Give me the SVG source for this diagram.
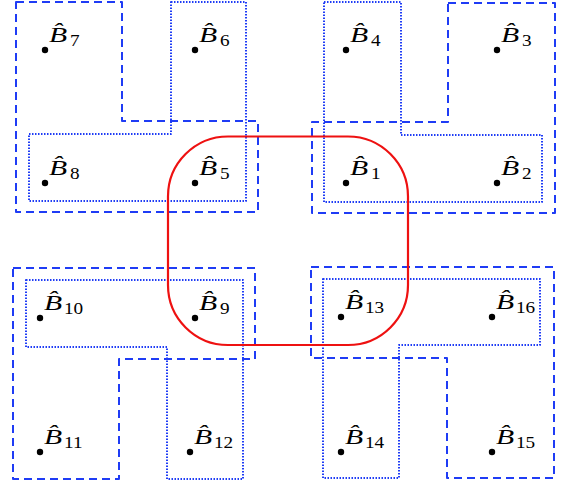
<svg xmlns="http://www.w3.org/2000/svg" width="565" height="483" viewBox="0 0 565 483">
<style>
.dash{fill:none;stroke:#1f3cf5;stroke-width:2;stroke-dasharray:8 5;stroke-linejoin:round}
.dot{fill:none;stroke:#1f3cf5;stroke-width:2;stroke-dasharray:1.5 1.5;stroke-linejoin:round}
.red{fill:none;stroke:#ee1111;stroke-width:2.2}
.pt{fill:#000;stroke:none}
.b{font-size:22px;font-style:italic}
.s{font-size:16px}
</style>
<rect width="565" height="483" fill="#fff"/>
<g id="regions">
<path class="dash" d="M16,2 H122 V121 H258 V212 H16 Z"/>
<path class="dot" d="M171,2 H246 V201 H29 V134 H171 Z"/>
<path class="dot" d="M324,2 H401 V135 H542 V202 H324 Z"/>
<path class="dash" d="M448,3 H555 V213 H312 V122 H448 Z"/>
<path class="dash" d="M13,268 H255 V359 H119 V479 H13 Z"/>
<path class="dot" d="M26,280 H243 V479 H167 V347 H26 Z"/>
<path class="dash" d="M311,267 H554 V478 H447 V358 H311 Z"/>
<path class="dot" d="M323,279 H540 V345 H399 V478 H323 Z"/>
<rect class="red" x="168" y="136.5" width="240" height="208.5" rx="60" ry="60"/>
</g>
<g id="connectors"></g>
<g font-family="'Liberation Serif', 'Times New Roman', serif" fill="#000">
<g id="B7"><circle class="pt" cx="45" cy="50" r="3.2"/><text class="b" transform="translate(49,42) scale(1.35,1)">B̂</text><text class="s" transform="translate(70,46) scale(1.2,1)">7</text></g>
<g id="B6"><circle class="pt" cx="195" cy="50" r="3.2"/><text class="b" transform="translate(199,42) scale(1.35,1)">B̂</text><text class="s" transform="translate(220,46) scale(1.2,1)">6</text></g>
<g id="B4"><circle class="pt" cx="346" cy="50" r="3.2"/><text class="b" transform="translate(350,42) scale(1.35,1)">B̂</text><text class="s" transform="translate(371,46) scale(1.2,1)">4</text></g>
<g id="B3"><circle class="pt" cx="497" cy="50" r="3.2"/><text class="b" transform="translate(501,42) scale(1.35,1)">B̂</text><text class="s" transform="translate(522,46) scale(1.2,1)">3</text></g>
<g id="B8"><circle class="pt" cx="45" cy="183" r="3.2"/><text class="b" transform="translate(49,175) scale(1.35,1)">B̂</text><text class="s" transform="translate(70,179) scale(1.2,1)">8</text></g>
<g id="B5"><circle class="pt" cx="195" cy="183" r="3.2"/><text class="b" transform="translate(199,175) scale(1.35,1)">B̂</text><text class="s" transform="translate(220,179) scale(1.2,1)">5</text></g>
<g id="B1"><circle class="pt" cx="346" cy="183" r="3.2"/><text class="b" transform="translate(350,175) scale(1.35,1)">B̂</text><text class="s" transform="translate(371,179) scale(1.2,1)">1</text></g>
<g id="B2"><circle class="pt" cx="497" cy="183" r="3.2"/><text class="b" transform="translate(501,175) scale(1.35,1)">B̂</text><text class="s" transform="translate(522,179) scale(1.2,1)">2</text></g>
<g id="B10"><circle class="pt" cx="40" cy="318" r="3.2"/><text class="b" transform="translate(44,310) scale(1.35,1)">B̂</text><text class="s" transform="translate(64,314) scale(1.2,1)">10</text></g>
<g id="B9"><circle class="pt" cx="195" cy="318" r="3.2"/><text class="b" transform="translate(199,310) scale(1.35,1)">B̂</text><text class="s" transform="translate(220,314) scale(1.2,1)">9</text></g>
<g id="B13"><circle class="pt" cx="341" cy="317" r="3.2"/><text class="b" transform="translate(345,309) scale(1.35,1)">B̂</text><text class="s" transform="translate(365,313) scale(1.2,1)">13</text></g>
<g id="B16"><circle class="pt" cx="492" cy="317" r="3.2"/><text class="b" transform="translate(496,309) scale(1.35,1)">B̂</text><text class="s" transform="translate(516,313) scale(1.2,1)">16</text></g>
<g id="B11"><circle class="pt" cx="40" cy="452" r="3.2"/><text class="b" transform="translate(44,444) scale(1.35,1)">B̂</text><text class="s" transform="translate(64,448) scale(1.2,1)">11</text></g>
<g id="B12"><circle class="pt" cx="190" cy="452" r="3.2"/><text class="b" transform="translate(194,444) scale(1.35,1)">B̂</text><text class="s" transform="translate(214,448) scale(1.2,1)">12</text></g>
<g id="B14"><circle class="pt" cx="341" cy="452" r="3.2"/><text class="b" transform="translate(345,444) scale(1.35,1)">B̂</text><text class="s" transform="translate(365,448) scale(1.2,1)">14</text></g>
<g id="B15"><circle class="pt" cx="492" cy="452" r="3.2"/><text class="b" transform="translate(496,444) scale(1.35,1)">B̂</text><text class="s" transform="translate(516,448) scale(1.2,1)">15</text></g>
</g>
</svg>
